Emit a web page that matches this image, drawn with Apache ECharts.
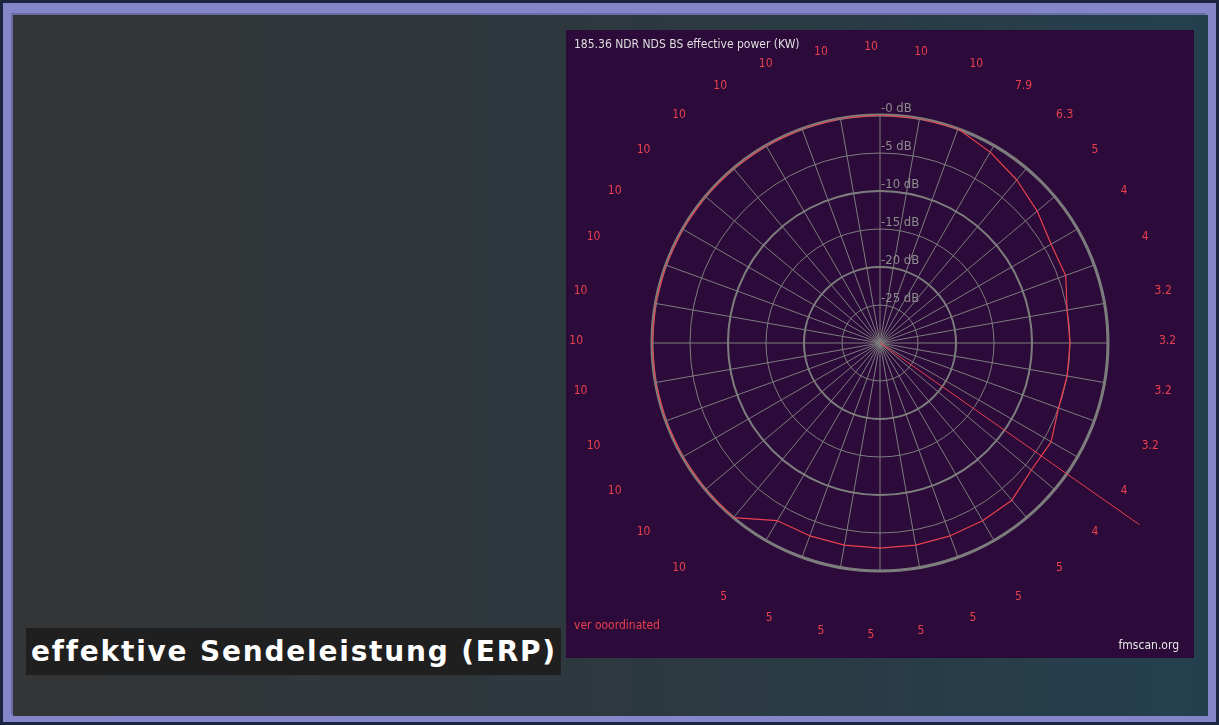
<!DOCTYPE html>
<html>
<head>
<meta charset="utf-8">
<script src="https://cdn.jsdelivr.net/npm/echarts@6/dist/echarts.min.js"></script>
<style>
  html, body { margin: 0; padding: 0; width: 1219px; height: 725px; overflow: hidden; background: #1c2540; }
  #frame { position: absolute; left: 3px; top: 3px; width: 1213px; height: 719px; background: #8585c9; box-sizing: border-box; }
  #inner { position: absolute; left: 13px; top: 15px; width: 1195px; height: 701px;
           background: linear-gradient(to right, #343536 0%, #2d383f 50%, #24404f 100%);
           box-shadow: -2px -2px 0 #6b6ba6; }
  #chart { position: absolute; left: 566px; top: 30px; width: 628px; height: 628px; }
  #caption { position: absolute; left: 26px; top: 628px; width: 535px; height: 47px; background: #1f1f1f;
             color: #ffffff; font-family: "DejaVu Sans", Verdana, sans-serif; font-weight: bold; font-size: 28px;
             letter-spacing: 1.8px; font-variant-ligatures: none; font-feature-settings: "liga" 0;
             line-height: 47px; padding-left: 5px; box-sizing: border-box; white-space: nowrap; }
</style>
</head>
<body>
<div id="frame"></div>
<div id="inner"></div>
<div id="chart"></div>
<div id="caption">effektive Sendeleistung (ERP)</div>
<script>
// ERP label (kW) for each direction, 0°..350° in 10° steps
var erpLabels = ['10','10','10','7.9','6.3','5','4','4','3.2','3.2','3.2','3.2','4','4','5','5','5','5',
                 '5','5','5','5','10','10','10','10','10','10','10','10','10','10','10','10','10','10'];
// Directions (degrees)
var directions = [0,10,20,30,40,50,60,70,80,90,100,110,120,130,140,150,160,170,
                  180,190,200,210,220,230,240,250,260,270,280,290,300,310,320,330,340,350,360];
// Relative pattern (dB)
var patternDb = [0,0,0,-1.0,-2.0,-3.0,-4.0,-4.0,-5.0,-5.0,-5.0,-5.0,-4.0,-4.0,-3.0,-3.0,-3.0,-3.0,
                 -3.0,-3.0,-3.0,-3.0,0,0,0,0,0,0,0,0,0,0,0,0,0,0,0];
// Bearing line (degrees) from centre to its outer end (relative length 0..1)
var bearingAngle = [125, 125];
var bearingLength = [0, 1];

var narrow = '"Liberation Sans Narrow", "DejaVu Sans Condensed", "Roboto Condensed", sans-serif';
var gridGray = '#7c7c7c';
var red = '#e8404c';

var patternData = patternDb.map(function (v, i) { return [v, directions[i]]; });
var bearingData = bearingLength.map(function (v, i) { return [v, bearingAngle[i]]; });

var hiddenAngle = function (idx) {
  return { polarIndex: idx, type: 'value', min: 0, max: 360, interval: 10, startAngle: 90, clockwise: true,
           axisLine: { show: false }, axisTick: { show: false }, axisLabel: { show: false }, splitLine: { show: false } };
};
var hiddenRadius = function (idx) {
  return { polarIndex: idx, type: 'value', min: 0, max: 1, angle: 90,
           axisLine: { show: false }, axisTick: { show: false }, axisLabel: { show: false }, splitLine: { show: false } };
};

var chart = echarts.init(document.getElementById('chart'), null, { renderer: 'canvas' });
chart.setOption({
  animation: false,
  backgroundColor: '#2c0b3b',
  title: [
    { text: '185.36 NDR NDS BS effective power (KW)', left: 3, top: 4,
      textStyle: { color: '#dedede', fontSize: 12, fontWeight: 'normal', fontFamily: narrow } },
    { text: 'ver ooordinated', left: 3, top: 585,
      textStyle: { color: red, fontSize: 12, fontWeight: 'normal', fontFamily: narrow } },
    { text: 'fmscan.org', right: 10, top: 605,
      textStyle: { color: '#e6e6e6', fontSize: 12, fontWeight: 'normal', fontFamily: narrow } }
  ],
  polar: [
    { center: [314, 313], radius: 228 },
    { center: [314, 313], radius: 228 },
    { center: [314, 313], radius: 317 },
    { center: [305, 311], radius: 228 }
  ],
  angleAxis: [
    { polarIndex: 0, type: 'value', min: 0, max: 360, interval: 10, startAngle: 90, clockwise: true,
      axisLine: { show: true, lineStyle: { color: gridGray, width: 3 } },
      axisTick: { show: false },
      splitLine: { show: true, lineStyle: { color: gridGray, width: 1 } },
      axisLabel: { show: false }
    },
    hiddenAngle(1),
    hiddenAngle(2),
    { polarIndex: 3, type: 'value', min: 0, max: 360, interval: 10, startAngle: 90, clockwise: true,
      axisLine: { show: false }, axisTick: { show: false }, splitLine: { show: false },
      axisLabel: { show: true, margin: 60, color: red, fontSize: 12, fontFamily: narrow,
                   formatter: function (v) { var i = Math.round(v / 10); return i < erpLabels.length ? erpLabels[i] : ''; } }
    }
  ],
  radiusAxis: [
    { polarIndex: 0, type: 'value', min: -30, max: 0, interval: 5, angle: 90,
      axisLine: { show: false }, axisTick: { show: false },
      splitLine: { show: true, lineStyle: { color: gridGray, width: 1 } },
      axisLabel: { show: true, margin: -1, align: 'left', verticalAlign: 'bottom', color: '#8c8c8c',
                   fontSize: 13, fontFamily: narrow, showMinLabel: false,
                   formatter: function (v) { if (v === -30) return ''; return (v === 0 ? '-0' : String(v)) + ' dB'; } }
    },
    { polarIndex: 1, type: 'value', min: -30, max: 0, interval: 10, angle: 90,
      axisLine: { show: false }, axisTick: { show: false }, axisLabel: { show: false },
      splitLine: { show: true, lineStyle: { color: gridGray, width: 2 } }
    },
    hiddenRadius(2),
    hiddenRadius(3)
  ],
  series: [
    { type: 'line', coordinateSystem: 'polar', polarIndex: 0, data: patternData, symbol: 'none',
      lineStyle: { color: red, width: 1.2 }, z: 5 },
    { type: 'line', coordinateSystem: 'polar', polarIndex: 2, data: bearingData, symbol: 'none',
      lineStyle: { color: red, width: 1 }, z: 5 }
  ]
});
</script>
</body>
</html>
